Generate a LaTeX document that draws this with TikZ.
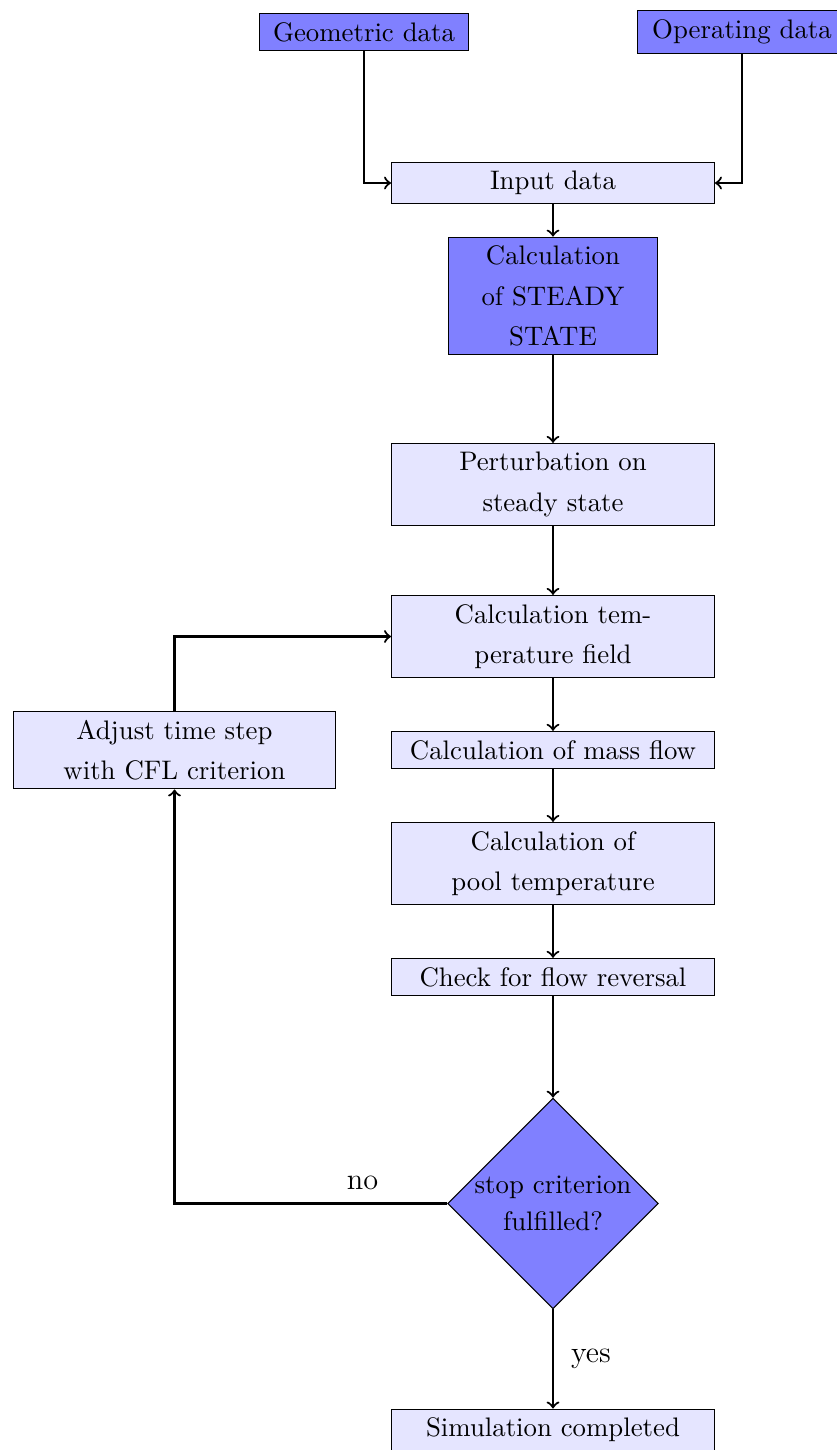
\documentclass[tikz,border=0pt]{standalone}
\usetikzlibrary{shapes.geometric}
\linespread{1.25}
\begin{document}
\begin{tikzpicture}[
  x=0.37313pt, y=-0.37313pt,
  startstop/.style={rectangle, draw=black, fill=blue!50, text width=2.5cm, align=center},
  process/.style={rectangle, draw=black, fill=blue!10, text width=4cm, align=center},
  decision/.style={diamond, aspect=1, draw=black, fill=blue!50, inner sep=-2pt,
                   minimum width=78.6pt, minimum height=78.6pt, align=center,
                   font=\linespread{1.15}\selectfont},
  arr/.style={thick, ->},
  lbl/.style={font=\fontsize{11.3}{13.5}\selectfont}
]
\useasboundingbox (0,0) rectangle (836,1450);

% data sources
\node[startstop] (geo)  at (364,32) {Geometric data};
\node[startstop] (oper) at (742,32) {Operating data};

% main chain
\node[process]   (input)  at (553,183)    {Input data};
\node[startstop] (steady) at (553,296)    {Calculation\\ of STEADY\\ STATE};
\node[process]   (pert)   at (553,484.5)  {Perturbation on\\ steady state};
\node[process]   (ctemp)  at (553,636.5)  {Calculation tem-\\perature field};
\node[process]   (mass)   at (553,750)    {Calculation of mass flow};
\node[process]   (pool)   at (553,863.5)  {Calculation of\\ pool temperature};
\node[process]   (rev)    at (553,977)    {Check for flow reversal};
\node[decision]  (dec)    at (553,1203.5) {stop criterion\\ fulfilled?};
\node[process]   (sim)    at (553,1430)   {Simulation completed};

% loop-back
\node[process]   (adjust) at (174.5,750)  {Adjust time step\\ with CFL criterion};

% connectors
\draw[arr] (geo)  |- (input);
\draw[arr] (oper) |- (input);
\draw[arr] (input)  -- (steady);
\draw[arr] (steady) -- (pert);
\draw[arr] (pert)   -- (ctemp);
\draw[arr] (ctemp)  -- (mass);
\draw[arr] (mass)   -- (pool);
\draw[arr] (pool)   -- (rev);
\draw[arr] (rev)    -- (dec);
\draw[arr] (dec) -- node[lbl, right, xshift=3pt] (yes) {yes} (sim);
\draw[arr] (dec) -| node[lbl, pos=0.155, above, yshift=1.5pt] (no) {no} (adjust);
\draw[arr] (adjust) |- (ctemp);
\end{tikzpicture}
\end{document}
